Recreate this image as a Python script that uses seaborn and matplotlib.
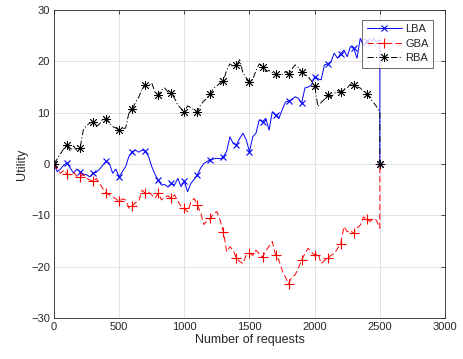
import numpy as np
import pandas as pd
import matplotlib
matplotlib.use("Agg")
import matplotlib.pyplot as plt
import seaborn as sns

# Utility sampled every 25 requests from 0 to 2500; each run's buffer ends in a trailing zero
step = 25
n_requests = 2500

lba = [0, -1.5, -1.0, -0.2, 0.2, -0.8, -1.8, -1.0, -1.5, -2.0,
       -2.1, -2.5, -1.8, -1.6, -1.0, -0.2, 0.5, 0.1, -1.8, -1.0,
       -2.5, -1.5, -0.5, 1.5, 2.4, 2.7, 2.3, 2.7, 2.5, 1.5,
       -0.5, -2.0, -3.2, -4.1, -4.0, -4.5, -3.8, -4.1, -2.8, -4.4,
       -3.4, -5.4, -3.8, -3.0, -2.1, -0.8, 0.1, 0.5, 0.8, 1.0,
       1.1, 1.0, 1.4, 2.5, 5.3, 4.0, 3.7, 5.0, 6.0, 4.7,
       2.4, 5.3, 6.0, 8.6, 8.2, 8.9, 6.6, 10.2, 9.5, 8.9,
       10.5, 12.0, 12.3, 12.5, 13.1, 12.8, 11.8, 14.8, 15.0, 15.4,
       17.0, 16.6, 16.4, 19.3, 19.5, 19.9, 21.6, 20.6, 21.5, 22.2,
       20.9, 22.9, 22.5, 20.6, 24.5, 23.0, 24.0, 23.2, 24.5, 23.8,
       24.2, 0]

gba = [0, -1.0, -1.8, -1.2, -2.0, -2.1, -1.6, -2.4, -2.5, -2.0,
       -2.8, -3.1, -3.4, -2.8, -3.8, -4.8, -5.7, -6.0, -6.4, -6.8,
       -7.3, -6.8, -7.0, -8.6, -8.2, -7.5, -7.3, -5.1, -5.7, -5.5,
       -6.0, -6.7, -5.7, -7.0, -6.4, -6.2, -6.7, -6.0, -7.2, -8.3,
       -8.6, -9.3, -7.5, -6.7, -8.0, -9.5, -11.8, -11.0, -10.6, -9.6,
       -9.3, -11.0, -13.2, -17.1, -16.1, -16.8, -18.4, -19.0, -19.4, -17.7,
       -17.4, -17.8, -16.8, -17.5, -18.1, -17.0, -16.0, -15.1, -17.7, -18.7,
       -20.7, -22.0, -23.3, -22.0, -21.6, -20.3, -18.7, -17.5, -16.4, -17.2,
       -17.7, -17.4, -19.4, -18.8, -18.4, -17.8, -17.4, -16.5, -15.5, -12.2,
       -13.2, -13.0, -13.5, -12.5, -11.9, -10.3, -10.8, -11.2, -10.6, -11.0,
       -12.5, 0]

rba = [0, 1.0, 2.0, 3.0, 3.7, 2.5, 3.5, 2.6, 3.1, 6.6,
       7.5, 8.0, 8.2, 7.3, 7.8, 8.8, 8.7, 8.0, 7.3, 7.0,
       6.6, 6.9, 7.0, 10.0, 10.7, 12.0, 13.0, 14.6, 15.4, 15.2,
       15.8, 14.0, 13.4, 14.4, 14.8, 14.0, 13.8, 12.8, 11.5, 10.8,
       10.2, 11.3, 11.0, 10.5, 10.2, 11.5, 12.3, 12.8, 13.6, 14.8,
       15.2, 15.8, 16.2, 18.3, 19.5, 19.0, 19.2, 20.3, 17.7, 16.8,
       16.0, 16.5, 18.2, 19.5, 18.9, 18.0, 18.2, 17.8, 17.5, 17.0,
       17.4, 18.0, 17.5, 18.5, 19.3, 18.8, 17.9, 17.5, 17.0, 16.2,
       15.2, 11.2, 12.0, 12.6, 13.4, 13.0, 13.7, 14.3, 14.1, 14.6,
       14.8, 15.6, 15.4, 15.0, 14.8, 14.2, 13.6, 12.8, 12.0, 11.2,
       10.2, 0]

requests = list(range(0, n_requests + 1, step)) + [n_requests]

series = {"LBA": lba, "GBA": gba, "RBA": rba}
df = pd.DataFrame({"requests": requests, **series})

sns.set_style("white")
plt.rcParams["font.family"] = ["Liberation Sans", "DejaVu Sans"]
plt.rcParams["lines.scale_dashes"] = False

fig = plt.figure(figsize=(4.63, 3.59), dpi=100)
ax = fig.add_axes([0.1166, 0.1142, 0.8445, 0.858])

# markers every 100 requests plus the final point
mark_idx = list(range(0, len(requests) - 1, 4))[:-1] + [len(requests) - 1]

asterisk = (8, 2, 0)
styles = {
    "LBA": dict(color="#0000ff", marker="x", markersize=4.5, mew=0.8, dashes=None),
    "GBA": dict(color="#ff0000", marker="+", markersize=7, mew=0.8, dashes=(4.5, 2.2)),
    "RBA": dict(color="#000000", marker=asterisk, markersize=6.5, mew=0.6,
                dashes=(4.5, 1.6, 0.8, 1.6)),
}

for name in ["LBA", "GBA", "RBA"]:
    st = styles[name]
    sns.lineplot(data=df, x="requests", y=name, ax=ax, estimator=None, sort=False,
                 color=st["color"], linewidth=0.7, marker=st["marker"],
                 markersize=st["markersize"], markevery=mark_idx,
                 markeredgewidth=st["mew"], markeredgecolor=st["color"], label=name)
    line = ax.lines[-1]
    if st["dashes"] is not None:
        line.set_dashes(st["dashes"])

ax.set_xlim(0, 3000)
ax.set_ylim(-30, 30)
ax.set_xticks(range(0, 3001, 500))
ax.set_yticks(range(-30, 31, 10))

ax.grid(True, color="#dcdcdc", linewidth=0.6)
ax.set_axisbelow(True)
for sp in ax.spines.values():
    sp.set_color("#262626")
    sp.set_linewidth(0.6)
    sp.set_visible(True)

ax.tick_params(direction="in", length=3, width=0.6, colors="#262626",
               labelsize=8, top=True, right=True, labelcolor="#262626", pad=3)
ax.set_xlabel("Number of requests", fontsize=9, color="#262626", labelpad=1)
ax.set_ylabel("Utility", fontsize=9, color="#262626", labelpad=2)

leg = ax.legend(loc="upper right", bbox_to_anchor=(0.97, 0.968), fontsize=8,
                frameon=True, fancybox=False, edgecolor="#262626",
                handlelength=3.2, handletextpad=0.3, borderpad=0.4,
                labelspacing=0.4, borderaxespad=0.0)
leg.get_frame().set_linewidth(0.6)

fig.savefig("out.png", dpi=100)
